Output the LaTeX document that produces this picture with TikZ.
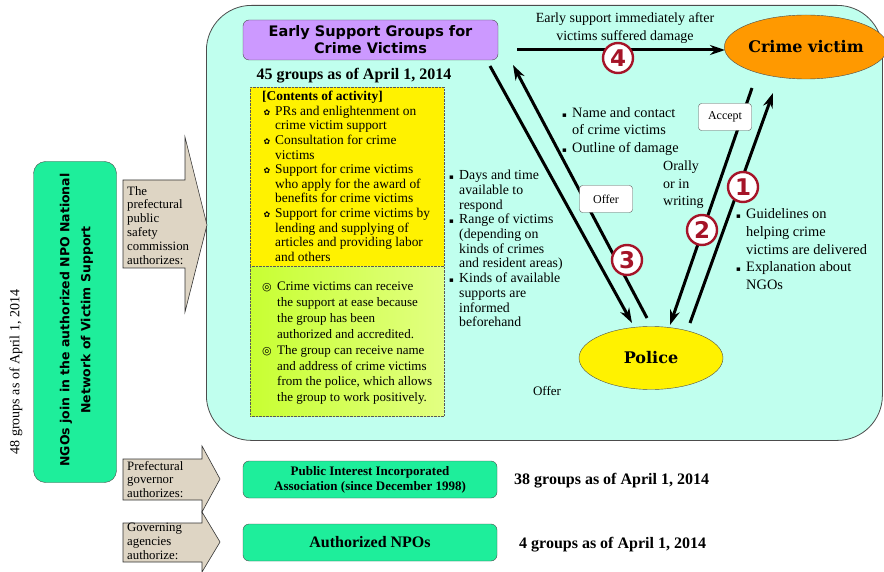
\documentclass[tikz,border=0pt]{standalone}
\usepackage{fontspec}
\setmainfont{Liberation Serif}
\newfontfamily\dvs{DejaVu Sans}
\newfontfamily\dvserif{DejaVu Serif}
\usetikzlibrary{arrows.meta,shapes.geometric}
\definecolor{aqua}{RGB}{192,255,238}
\definecolor{lav}{RGB}{204,153,255}
\definecolor{mint}{RGB}{30,238,155}
\definecolor{beige}{RGB}{222,213,196}
\definecolor{dred}{RGB}{165,20,40}
\definecolor{orng}{RGB}{255,153,0}
\definecolor{ygA}{RGB}{200,255,50}
\definecolor{ygB}{RGB}{226,255,130}
\newcommand\fl{\makebox[13pt][l]{\hspace{1.5pt}{\dvs\fontsize{8}{8}\selectfont ✿}}}
\newcommand\indf{\hspace*{13pt}}
\newcommand\bl{\makebox[15pt][l]{{\dvs\fontsize{11}{11}\selectfont ◎}}}
\newcommand\indb{\hspace*{15pt}}
\newcommand\sq{\makebox[10pt][l]{{\dvs\fontsize{7}{7}\selectfont ▪}}}
\newcommand\inds{\hspace*{10pt}}
\begin{document}
\begin{tikzpicture}[x=1pt,y=-1pt]
\tikzset{
 body/.style={inner sep=0, anchor=north west, align=left},
 conn/.style={line width=3pt, -{Stealth[length=15pt,width=10pt]}},
 lbl/.style={draw=gray!70!black, fill=white, rounded corners=3pt, minimum width=53pt, minimum height=27pt, inner sep=0, font=\fontsize{12}{14}\selectfont},
 num/.style={circle, draw=dred, line width=2.4pt, fill=white, minimum size=30pt, inner sep=0, text=dred, font=\dvs\bfseries\fontsize{23}{23}\selectfont},
 shaft/.style={draw=gray!40!black, fill=beige, line width=0.6pt},
 gbox/.style={draw=gray!60!black, fill=mint, rounded corners=6pt, minimum width=254pt, minimum height=37pt, inner sep=0, align=center},
}
\useasboundingbox (0,0) rectangle (884,572);
\fill[white] (0,0) rectangle (884,572);
% main panel
\node[draw=gray!60!black, line width=0.8pt, fill=aqua, rounded corners=45pt, minimum width=676pt, minimum height=435pt, anchor=north west, inner sep=0] (panel) at (206,5) {};
% left green box
\node[draw=gray!60!black, fill=mint, rounded corners=12pt, minimum width=83pt, minimum height=321pt, inner sep=0] (ngo) at (75,322) {};
\node[rotate=90, align=center, inner sep=0, font=\dvs\bfseries\fontsize{12.5}{21}\selectfont] (ngotext) at (76.5,320) {NGOs join in the authorized NPO National\\Network of Victim Support};
\node[rotate=90, inner sep=0, font=\fontsize{14}{16}\selectfont] (g48) at (16,372) {48 groups as of April 1, 2014};
% beige arrows
\path[shaft] (123,180) -- (185,180) -- (185,137) -- (207,225) -- (185,312) -- (185,268) -- (123,268) -- cycle;
\node[body, font=\fontsize{12.8}{13.9}\selectfont] (auth1) at (127,186) {The\\prefectural\\public\\safety\\commission\\authorizes:};
\path[shaft] (123,459) -- (202,459) -- (202,446) -- (220,479) -- (202,512) -- (202,500) -- (123,500) -- cycle;
\node[body, font=\fontsize{12.8}{13.5}\selectfont] (auth2) at (127,461) {Prefectural\\governor\\authorizes:};
\path[shaft] (123,523) -- (202,523) -- (202,512) -- (220,542) -- (202,572) -- (202,562) -- (123,562) -- cycle;
\node[body, font=\fontsize{12.8}{14}\selectfont] (auth3) at (127,523) {Governing\\agencies\\authorize:};
% bottom green boxes
\node[gbox, font=\bfseries\fontsize{13}{15}\selectfont] (pia) at (370,479.5) {Public Interest Incorporated\\Association (since December 1998)};
\node[gbox, font=\bfseries\fontsize{16}{18}\selectfont] (npo) at (370,542.5) {Authorized NPOs};
\node[anchor=west, inner sep=0, font=\bfseries\fontsize{16}{18}\selectfont] (g38) at (514,481) {38 groups as of April 1, 2014};
\node[anchor=west, inner sep=0, font=\bfseries\fontsize{16}{18}\selectfont] (g4) at (519,545) {4 groups as of April 1, 2014};
% purple box
\node[draw=gray!60!black, fill=lav, rounded corners=6pt, minimum width=255pt, minimum height=40pt, inner sep=0, align=center, font=\dvs\bfseries\fontsize{14.5}{17}\selectfont] (esg) at (370.5,40) {Early Support Groups for\\Crime Victims};
\node[inner sep=0, font=\bfseries\fontsize{16}{18}\selectfont] (g45) at (354,76) {45 groups as of April 1, 2014};
% contents boxes
\node[draw=gray!70!black, densely dotted, fill=yellow, minimum width=194pt, minimum height=179pt, anchor=north west, inner sep=0] (cbox) at (250,87) {};
\node[draw=gray!70!black, densely dotted, left color=ygA, right color=ygB, minimum width=194pt, minimum height=150pt, anchor=north west, inner sep=0] (mbox) at (250,266) {};
\node[body, font=\fontsize{13.4}{14.6}\selectfont] (ctext) at (262,91) {\textbf{[Contents of activity]}\\
\fl PRs and enlightenment on\\ \indf crime victim support\\ \fl Consultation for crime\\ \indf victims\\ \fl Support for crime victims\\ \indf who apply for the award of\\ \indf benefits for crime victims\\ \fl Support for crime victims by\\ \indf lending and supplying of\\ \indf articles and providing labor\\ \indf and others};
\node[body, font=\fontsize{13}{15.86}\selectfont] (mtext) at (262,282) {\bl Crime victims can receive\\ \indb the support at ease because\\ \indb the group has been\\ \indb authorized and accredited.\\ \bl The group can receive name\\ \indb and address of crime victims\\ \indb from the police, which allows\\ \indb the group to work positively.};
% ellipses
\node[ellipse, draw=gray!60!black, fill=orng, minimum width=143pt, minimum height=64pt, inner sep=0, font=\dvserif\bfseries\fontsize{16}{18}\selectfont] (victim) at (806,47) {Crime victim};
\node[ellipse, draw=gray!60!black, fill=yellow, minimum width=144pt, minimum height=63pt, inner sep=0, font=\dvserif\bfseries\fontsize{16}{18}\selectfont] (police) at (651,358) {Police};
% connector ends
\coordinate (e4s) at (517,50);
\coordinate (e4e) at (725,50);
\coordinate (d1s) at (490,66);
\coordinate (d1e) at (632,323);
\coordinate (u1s) at (647,318);
\coordinate (u1e) at (513,65);
\coordinate (d2s) at (752,88);
\coordinate (d2e) at (670,325);
\coordinate (u2s) at (690,323);
\coordinate (u2e) at (773,93);
\draw[conn] (e4s) -- (e4e);
\draw[conn] (d1s) -- (d1e);
\draw[conn] (u1s) -- (u1e);
\draw[conn] (d2s) -- (d2e);
\draw[conn] (u2s) -- (u2e);
% labels on connectors
\node[lbl] (offerbox) at (606,199) {Offer};
\node[lbl] (acceptbox) at (725,117) {Accept};
\node[num] (n4) at (618,58) {4};
\node[num] (n1) at (743,187) {1};
\node[num] (n2) at (702,230) {2};
\node[num] (n3) at (627,260) {3};
% free texts
\node[align=center, inner sep=0, font=\fontsize{14}{18}\selectfont] (early) at (625,28) {Early support immediately after\\victims suffered damage};
\node[body, font=\fontsize{14.3}{17.5}\selectfont] (namec) at (562,107) {\sq Name and contact\\ \inds of crime victims\\ \sq Outline of damage};
\node[body, font=\fontsize{14}{17.5}\selectfont] (orally) at (663,161) {Orally\\or in\\writing};
\node[body, font=\fontsize{13.8}{14.7}\selectfont] (resp) at (449,170) {\sq Days and time\\ \inds available to\\ \inds respond\\ \sq Range of victims\\ \inds (depending on\\ \inds kinds of crimes\\ \inds and resident areas)\\ \sq Kinds of available\\ \inds supports are\\ \inds informed\\ \inds beforehand};
\node[body, font=\fontsize{14.4}{17.7}\selectfont] (guide) at (736,208.5) {\sq Guidelines on\\ \inds helping crime\\ \inds victims are delivered\\ \sq Explanation about\\ \inds NGOs};
\node[inner sep=0, font=\fontsize{13}{15}\selectfont] (offer2) at (547,391) {Offer};
\end{tikzpicture}
\end{document}
